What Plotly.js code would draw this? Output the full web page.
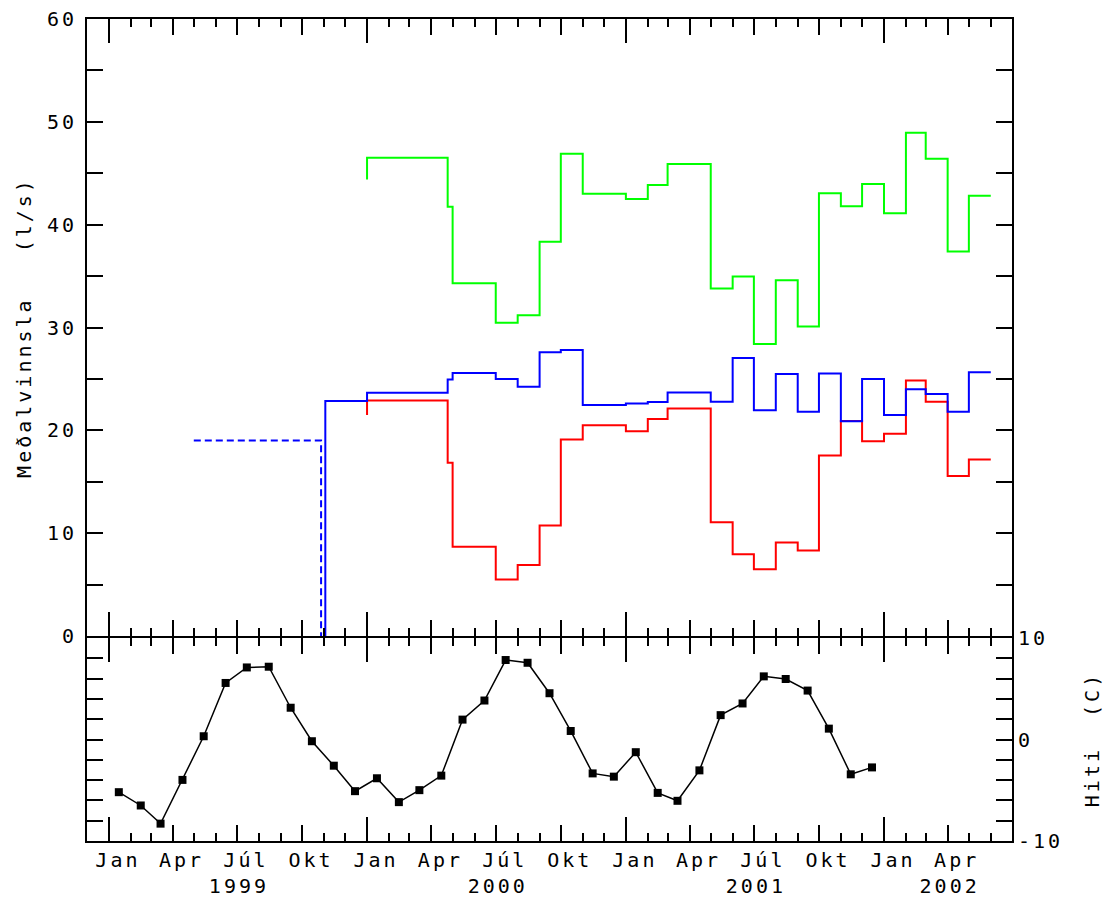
<!DOCTYPE html>
<html>
<head>
<meta charset="utf-8">
<script src="https://cdn.plot.ly/plotly-3.0.1.min.js"></script>
<style>
html,body{margin:0;padding:0;background:#fff;}
#chart{width:1107px;height:899px;}
#chart svg text{letter-spacing:3px;}
</style>
</head>
<body>
<div id="chart"></div>
<script>
// ---- Data ----
// Step series: each value holds from its date to the next date; first pair = start jump, last = end.
const stepDates = ['2000-01-01','2000-01-01','2000-04-24','2000-05-01','2000-06-01','2000-07-01','2000-08-01','2000-09-01','2000-10-01','2000-11-01','2000-12-01',
  '2001-01-01','2001-02-01','2001-03-01','2001-04-01','2001-05-01','2001-06-01','2001-07-01','2001-08-01','2001-09-01','2001-10-01','2001-11-01','2001-12-01',
  '2002-01-01','2002-02-01','2002-03-01','2002-04-01','2002-05-01','2002-06-01'];
const greenVals = [44.4,46.5,41.75,34.3,34.3,30.47,31.18,38.35,46.9,43.0,43.0,
  42.5,43.85,45.9,45.9,33.8,34.97,28.4,34.6,30.1,43.05,41.8,43.95,
  41.1,48.95,46.4,37.4,42.8,42.8];
const redVals = [21.48,22.9,16.85,8.68,8.68,5.5,6.9,10.75,19.1,20.5,20.5,
  19.92,21.09,22.13,22.13,11.07,7.95,6.5,9.1,8.32,17.56,20.9,18.95,
  19.67,24.85,22.78,15.55,17.17,17.17];

const blueDates = ['1999-11-03','1999-11-03','2000-01-01','2000-04-24','2000-05-01','2000-06-01','2000-07-01','2000-08-01','2000-09-01','2000-10-01','2000-11-01','2000-12-01',
  '2001-01-01','2001-02-01','2001-03-01','2001-04-01','2001-05-01','2001-06-01','2001-07-01','2001-08-01','2001-09-01','2001-10-01','2001-11-01','2001-12-01',
  '2002-01-01','2002-02-01','2002-03-01','2002-04-01','2002-05-01','2002-06-01'];
const blueVals = [0,22.85,23.65,24.95,25.57,25.57,24.98,24.24,27.6,27.8,22.47,22.47,
  22.62,22.75,23.69,23.69,22.77,27.03,21.95,25.47,21.8,25.53,20.88,24.98,
  21.49,23.99,23.54,21.8,25.66,25.66];

const blueOldDates = ['1999-05-01','1999-10-28','1999-10-28'];
const blueOldVals = [19.0,19.0,0];

const tempDates = ['1999-01-15','1999-02-15','1999-03-15','1999-04-15','1999-05-15','1999-06-15','1999-07-15','1999-08-15','1999-09-15','1999-10-15','1999-11-15','1999-12-15',
  '2000-01-15','2000-02-15','2000-03-15','2000-04-15','2000-05-15','2000-06-15','2000-07-15','2000-08-15','2000-09-15','2000-10-15','2000-11-15','2000-12-15',
  '2001-01-15','2001-02-15','2001-03-15','2001-04-15','2001-05-15','2001-06-15','2001-07-15','2001-08-15','2001-09-15','2001-10-15','2001-11-15','2001-12-15'];
const tempVals = [-5.19,-6.5,-8.29,-3.98,0.32,5.57,7.1,7.17,3.13,-0.17,-2.58,-5.09,
  -3.82,-6.17,-4.99,-3.56,1.96,3.84,7.83,7.56,4.56,0.84,-3.34,-3.66,
  -1.25,-5.26,-6.04,-3.04,2.4,3.55,6.22,5.96,4.82,1.07,-3.43,-2.75];

// Tick labels
const quarterVals = ['1999-01-01','1999-04-01','1999-07-01','1999-10-01','2000-01-01','2000-04-01','2000-07-01','2000-10-01',
  '2001-01-01','2001-04-01','2001-07-01','2001-10-01','2002-01-01','2002-04-01'];
const quarterText = ['Jan','Apr','Júl','Okt','Jan','Apr','Júl','Okt','Jan','Apr','Júl','Okt','Jan','Apr'];
const yearTickVals = ['1999-01-01','2000-01-01','2001-01-01','2002-01-01'];
const yearLabelVals = ['1999-07-01','2000-07-01','2001-07-01','2002-04-01'];
const yearText = ['1999','2000','2001','2002'];
const flowTicks = [0,10,20,30,40,50,60];
const tempTickVals = [-10,0,10];
const tempTickText = ['-10','0','10'];

// ---- Chart ----
const FONT = {family: 'DejaVu Sans Mono, monospace', size: 20, color: '#000'};
const xr = ['1998-12-01','2002-07-01'];
const topStart = 205 / 822;   // top panel bottom edge
const botEnd = 203 / 822;     // bottom panel top edge (axis lines meet in between)

function monthAxis(anchor, labels) {
  return {
    type: 'date', range: xr, anchor: anchor, showgrid: false, zeroline: false,
    showline: true, linewidth: 2, linecolor: '#000', mirror: 'allticks',
    tickmode: 'array', tickvals: quarterVals, ticktext: quarterText,
    ticks: 'inside', ticklen: 16, tickwidth: 2, tickcolor: '#000',
    showticklabels: labels, ticklabelshift: 9, tickfont: FONT,
    minor: {tickmode: 'linear', tick0: '1998-12-01', dtick: 'M1', ticks: 'inside', ticklen: 8, tickwidth: 2, tickcolor: '#000', showgrid: false}
  };
}
function yearAxis(over, anchor) {
  return {
    type: 'date', range: xr, overlaying: over, anchor: anchor, showgrid: false, zeroline: false,
    showline: false, mirror: 'allticks', tickmode: 'array', tickvals: yearTickVals,
    ticks: 'inside', ticklen: 24, tickwidth: 2, tickcolor: '#000', showticklabels: false
  };
}

const traces = [
  {x: stepDates, y: greenVals, xaxis: 'x', yaxis: 'y', mode: 'lines', line: {shape: 'hv', color: '#00ff00', width: 2}, hoverinfo: 'skip'},
  {x: stepDates, y: redVals, xaxis: 'x', yaxis: 'y', mode: 'lines', line: {shape: 'hv', color: '#ff0000', width: 2}, hoverinfo: 'skip'},
  {x: blueOldDates, y: blueOldVals, xaxis: 'x', yaxis: 'y', mode: 'lines', line: {color: '#0000ff', width: 2, dash: '7px,4px'}, hoverinfo: 'skip'},
  {x: blueDates, y: blueVals, xaxis: 'x', yaxis: 'y', mode: 'lines', line: {shape: 'hv', color: '#0000ff', width: 2}, hoverinfo: 'skip'},
  {x: tempDates, y: tempVals, xaxis: 'x2', yaxis: 'y2', mode: 'lines+markers', line: {color: '#000', width: 1.5},
   marker: {symbol: 'square', size: 8, color: '#000'}, hoverinfo: 'skip'},
  {x: [], y: [], xaxis: 'x3', yaxis: 'y', mode: 'lines', hoverinfo: 'skip'},
  {x: [], y: [], xaxis: 'x4', yaxis: 'y2', mode: 'lines', hoverinfo: 'skip'},
  {x: [], y: [], xaxis: 'x5', yaxis: 'y2', mode: 'lines', hoverinfo: 'skip'}
];

const layout = {
  width: 1107, height: 899,
  margin: {l: 87, r: 95, t: 19, b: 58, pad: 0},
  paper_bgcolor: '#fff', plot_bgcolor: '#fff',
  showlegend: false, font: FONT,
  xaxis: monthAxis('y', false),
  xaxis2: monthAxis('y2', true),
  xaxis3: yearAxis('x', 'y'),
  xaxis4: yearAxis('x2', 'y2'),
  xaxis5: {
    type: 'date', range: xr, overlaying: 'x2', anchor: 'y2', showgrid: false, zeroline: false,
    showline: false, tickmode: 'array', tickvals: yearLabelVals, ticktext: yearText,
    ticks: '', showticklabels: true, ticklabelstandoff: 31, ticklabelshift: 2, tickfont: FONT
  },
  yaxis: {
    domain: [topStart, 1], anchor: 'x', range: [0, 60], showgrid: false, zeroline: false,
    showline: true, linewidth: 2, linecolor: '#000', mirror: 'allticks',
    tickmode: 'array', tickvals: flowTicks, ticks: 'inside', ticklen: 16, tickwidth: 2, tickcolor: '#000',
    tickfont: FONT, ticklabelstandoff: 4,
    minor: {tickmode: 'linear', tick0: 0, dtick: 5, ticks: 'inside', ticklen: 8, tickwidth: 2, tickcolor: '#000', showgrid: false},
    title: {text: 'Meðalvinnsla\u00a0\u00a0\u00a0(l/s)', font: FONT, standoff: 16}
  },
  yaxis2: {
    domain: [0, botEnd], anchor: 'x2', side: 'right', range: [-10, 10], showgrid: false, zeroline: false,
    showline: true, linewidth: 2, linecolor: '#000', mirror: 'allticks',
    tickmode: 'array', tickvals: tempTickVals, ticktext: tempTickText, ticks: 'inside', ticklen: 16, tickwidth: 2, tickcolor: '#000',
    tickfont: FONT,
    minor: {tickmode: 'linear', tick0: 0, dtick: 2, ticks: 'inside', ticklen: 8, tickwidth: 2, tickcolor: '#000', showgrid: false},
    title: {text: 'Hiti\u00a0\u00a0(C)', font: FONT, standoff: 32}
  }
};

Plotly.newPlot('chart', traces, layout, {staticPlot: true, displayModeBar: false});
</script>
</body>
</html>
